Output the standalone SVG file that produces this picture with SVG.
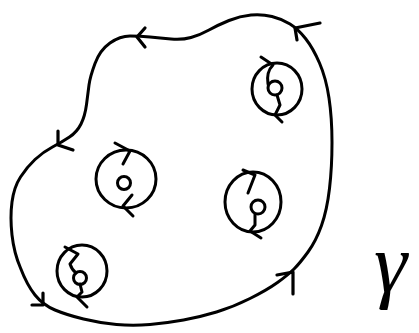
<svg xmlns="http://www.w3.org/2000/svg" width="419" height="333" viewBox="0 0 419 333">
<style>
.ln{fill:none;stroke:#000;stroke-width:3;stroke-linecap:round;stroke-linejoin:round}
.ah{fill:none;stroke:#000;stroke-width:3.2;stroke-linecap:round;stroke-linejoin:round}
.lbl{font-family:"Liberation Serif","Times New Roman",serif;font-style:italic;font-size:84px;fill:#000}
</style>
<rect width="419" height="333" fill="#fff"/>
<g id="connectors">
<path id="contour" class="ln" d="M 95,63.5 Q 100,50 110,43 Q 120,36 130,36 Q 140,36 150,37 Q 160,38 171,39 Q 182,40 191,37.5 Q 200,35 209,30 Q 218,25 229,20.5 Q 240,16 251,15 Q 262,14 272,16.5 Q 282,19 290,24 Q 298,29 305.5,38.5 Q 313,48 319.5,63 Q 326,78 329,98 Q 332,118 332,142.5 Q 332,167 329.5,188.5 Q 327,210 321.5,225.5 Q 316,241 308,252 Q 300,263 294,269 Q 288,275 277.5,282.5 Q 267,290 250,298.5 Q 233,307 216.5,312 Q 200,317 183.5,320 Q 167,323 150,324.5 Q 133,326 116.5,324.5 Q 100,323 83.5,319 Q 67,315 55,310 Q 43,305 35,295 Q 27,285 20.5,268 Q 14,253 12,235 Q 10,217 12,202 Q 14,187 20.5,177 Q 27,167 35,159.5 Q 43,152 52.5,147 Q 62,142 69.5,137 Q 77,132 81,124 Q 85,116 86.5,104.5 Q 88,93 89,85 Q 90,77 95,63.5 Z"/>
<polyline class="ah" points="145,28 137,37 145,47"/>
<polyline class="ah" points="320,23 295,28 297,40"/>
<polyline class="ah" points="277,275 293,272 293,294"/>
<polyline class="ah" points="32,305 43,305 43,293"/>
<polyline class="ah" points="58,131 58,145 73,150"/>
</g>
<g id="c1">
<ellipse class="ln" cx="277" cy="89" rx="25" ry="26"/>
<circle class="ln" cx="275" cy="88" r="7"/>
<path class="ln" d="M261,57 L273,65 Q266,72 268,84"/>
<path class="ln" d="M277,95 L280,105 L275,115 L282,122"/>
</g>
<g id="c2">
<ellipse class="ln" cx="126" cy="179" rx="30" ry="29"/>
<circle class="ln" cx="124" cy="183" r="6.5"/>
<path class="ln" d="M115,143 L130,151 L123,164"/>
<path class="ln" d="M132,195 L123,206 L133,216"/>
</g>
<g id="c3">
<ellipse class="ln" cx="253" cy="202" rx="28" ry="30"/>
<circle class="ln" cx="258" cy="207" r="7"/>
<path class="ln" d="M243,170 L255,175 L248,193"/>
<path class="ln" d="M255,214 L255,225 L250,231 L261,238"/>
</g>
<g id="c4">
<ellipse class="ln" cx="82" cy="271" rx="25" ry="26"/>
<circle class="ln" cx="80" cy="278" r="6.5"/>
<path class="ln" d="M65,247 L78,254 L70,264 Q72,270 76,273"/>
<path class="ln" d="M80,284 L82,292 L77,297 L87,307"/>
</g>
<g id="label">
<text class="lbl" x="374" y="292">γ</text>
</g>
</svg>
